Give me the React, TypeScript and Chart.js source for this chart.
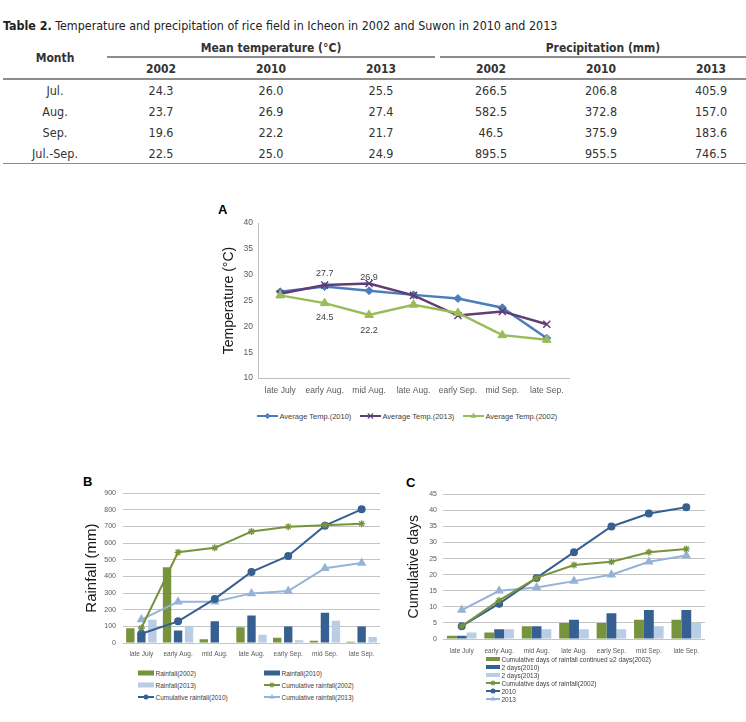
import React, { useEffect, useRef } from "react";
import { Chart, registerables } from "chart.js";

Chart.register(...registerables);

const FONT = "'Liberation Sans', Arial, sans-serif";
const TABLE_FONT = "'DejaVu Sans Condensed', 'DejaVu Sans', sans-serif";

// ---------- Table data ----------
const tableTitleBold = "Table 2.";
const tableTitle = " Temperature and precipitation of rice field in Icheon in 2002 and Suwon in 2010 and 2013";
const tableMonths = ["Jul.", "Aug.", "Sep.", "Jul.-Sep."];
const tableYears = ["2002", "2010", "2013"];
const meanTemp2002 = [24.3, 23.7, 19.6, 22.5];
const meanTemp2010 = [26.0, 26.9, 22.2, 25.0];
const meanTemp2013 = [25.5, 27.4, 21.7, 24.9];
const precip2002 = [266.5, 582.5, 46.5, 895.5];
const precip2010 = [206.8, 372.8, 375.9, 955.5];
const precip2013 = [405.9, 157.0, 183.6, 746.5];

// ---------- Chart data ----------
const periods = ["late July", "early Aug.", "mid Aug.", "late Aug.", "early Sep.", "mid Sep.", "late Sep."];

const avgTemp2010 = [26.7, 27.7, 26.9, 26.1, 25.4, 23.6, 17.7];
const avgTemp2013 = [26.3, 28.0, 28.3, 26.0, 22.1, 22.9, 20.4];
const avgTemp2002 = [26.0, 24.5, 22.2, 24.2, 22.6, 18.3, 17.4];

const rainfall2002 = [88, 455, 22, 95, 32, 14, 8];
const rainfall2010 = [58, 75, 131, 165, 99, 181, 99];
const rainfall2013 = [140, 103, 0, 50, 16, 133, 36];
const cumRain2002 = [90, 545, 572, 670, 699, 708, 717];
const cumRain2010 = [56, 130, 265, 427, 523, 705, 803];
const cumRain2013 = [141, 248, 248, 298, 312, 449, 481];

const days2002 = [1, 2, 4, 5, 5, 6, 6];
const days2010 = [1, 3, 4, 6, 8, 9, 9];
const days2013 = [2, 3, 3, 3, 3, 4, 5];
const cumDays2002 = [4, 12, 19, 23, 24, 27, 28];
const cumDays2010 = [4, 11, 19, 27, 35, 39, 41];
const cumDays2013 = [9, 15, 16, 18, 20, 24, 26];

// ---------- Labels ----------
const labelsA = ["Average Temp.(2010)", "Average Temp.(2013)", "Average Temp.(2002)"];
const labelsB = [
  "Rainfall(2002)",
  "Rainfall(2010)",
  "Rainfall(2013)",
  "Cumulative rainfall(2002)",
  "Cumulative rainfall(2010)",
  "Cumulative rainfall(2013)",
];
const labelsC = [
  "Cumulative days of rainfall continued \u22652 days(2002)",
  "2 days(2010)",
  "2 days(2013)",
  "Cumulative days of rainfall(2002)",
  "2010",
  "2013",
];

// ---------- Colours ----------
const BLUE_A = "#4A7EBB";
const PURPLE_A = "#5F3D75";
const GREEN_A = "#9BBB59";
const GREEN = "#77933C";
const DBLUE = "#376092";
const LBLUE_BAR = "#B9CDE5";
const LBLUE_LINE = "#95B3D7";
const TICK = "#595959";
const GRID = "#c4c4c4";

const valueLabelPlugin = {
  id: "valueLabels",
  afterDatasetsDraw(chart: any) {
    const ctx = chart.ctx;
    ctx.save();
    ctx.font = `9px ${FONT}`;
    ctx.fillStyle = "#404040";
    ctx.textAlign = "center";
    ctx.textBaseline = "middle";
    chart.data.datasets.forEach((ds: any, i: number) => {
      if (!ds.valueLabels) return;
      const meta = chart.getDatasetMeta(i);
      ds.valueLabels.forEach((v: any) => {
        const pt = meta.data[v.index];
        if (!pt) return;
        ctx.fillText(Number(ds.data[v.index]).toFixed(1), pt.x, pt.y + v.dy);
      });
    });
    ctx.restore();
  },
};

function configA(): any {
  return {
    type: "line",
    data: {
      labels: periods,
      datasets: [
        {
          label: labelsA[0], data: avgTemp2010, borderColor: BLUE_A, backgroundColor: BLUE_A,
          borderWidth: 2.5, pointStyle: "rectRot", pointRadius: 4, pointBorderWidth: 1, order: 2,
          valueLabels: [{ index: 1, dy: -13 }, { index: 2, dy: -13 }],
        },
        {
          label: labelsA[1], data: avgTemp2013, borderColor: PURPLE_A, backgroundColor: PURPLE_A,
          borderWidth: 2.5, pointStyle: "crossRot", pointRadius: 5, pointBorderWidth: 1.5, order: 1,
        },
        {
          label: labelsA[2], data: avgTemp2002, borderColor: GREEN_A, backgroundColor: GREEN_A,
          borderWidth: 2.5, pointStyle: "triangle", pointRadius: 5, pointBorderWidth: 1, order: 0,
          valueLabels: [{ index: 1, dy: 14 }, { index: 2, dy: 16 }],
        },
      ],
    },
    options: {
      responsive: false,
      animation: false,
      layout: { padding: { left: 0, top: 10, right: 21, bottom: 0 } },
      plugins: { legend: { display: false }, tooltip: { enabled: false } },
      scales: {
        x: {
          offset: true,
          grid: { display: false, drawTicks: false },
          border: { color: "#bfbfbf" },
          ticks: { font: { size: 8.5, family: FONT }, color: TICK, padding: 8, maxRotation: 0, autoSkip: false },
          afterFit: (s: any) => { s.height = 25; },
        },
        y: {
          min: 10, max: 40,
          ticks: { stepSize: 5, font: { size: 8.5, family: FONT }, color: TICK, padding: 5 },
          grid: { display: false, drawTicks: false },
          border: { color: "#bfbfbf" },
          title: { display: true, text: "Temperature (\u00B0C)", font: { size: 14, family: FONT }, color: "#1a1a1a", padding: { top: 20.6, bottom: 0 } },
          afterFit: (s: any) => { s.width = 58; },
        },
      },
    },
    plugins: [valueLabelPlugin],
  };
}

function configB(): any {
  const bar = { barPercentage: 0.76, categoryPercentage: 0.9, order: 2 };
  return {
    type: "bar",
    data: {
      labels: periods,
      datasets: [
        { type: "bar", label: labelsB[0], data: rainfall2002, backgroundColor: GREEN, ...bar },
        { type: "bar", label: labelsB[1], data: rainfall2010, backgroundColor: DBLUE, ...bar },
        { type: "bar", label: labelsB[2], data: rainfall2013, backgroundColor: LBLUE_BAR, ...bar },
        { type: "line", label: labelsB[3], data: cumRain2002, borderColor: GREEN, backgroundColor: GREEN, borderWidth: 2, pointStyle: "star", pointRadius: 3.5, pointBorderWidth: 1.3, order: 0 },
        { type: "line", label: labelsB[4], data: cumRain2010, borderColor: DBLUE, backgroundColor: DBLUE, borderWidth: 2, pointStyle: "circle", pointRadius: 3, order: 0 },
        { type: "line", label: labelsB[5], data: cumRain2013, borderColor: LBLUE_LINE, backgroundColor: LBLUE_LINE, borderWidth: 2, pointStyle: "triangle", pointRadius: 3.5, order: 0 },
      ],
    },
    options: {
      responsive: false,
      animation: false,
      layout: { padding: { left: 0, top: 9.7, right: 10, bottom: 0 } },
      plugins: { legend: { display: false }, tooltip: { enabled: false } },
      scales: {
        x: {
          grid: { display: false, drawTicks: false },
          border: { display: false },
          ticks: { font: { size: 6.5, family: FONT }, color: TICK, padding: 7, maxRotation: 0, autoSkip: false },
          afterFit: (s: any) => { s.height = 20; },
        },
        y: {
          min: 0, max: 900,
          ticks: { stepSize: 100, font: { size: 7, family: FONT }, color: TICK, padding: 7 },
          grid: { color: GRID, drawTicks: false },
          border: { display: false },
          title: { display: true, text: "Rainfall (mm)", font: { size: 15, family: FONT }, color: "#1a1a1a", padding: { top: 3, bottom: 0 } },
          afterFit: (s: any) => { s.width = 43; },
        },
      },
    },
  };
}

function configC(): any {
  const bar = { barPercentage: 1.0, categoryPercentage: 0.79, order: 2 };
  return {
    type: "bar",
    data: {
      labels: periods,
      datasets: [
        { type: "bar", label: labelsC[0], data: days2002, backgroundColor: GREEN, ...bar },
        { type: "bar", label: labelsC[1], data: days2010, backgroundColor: DBLUE, ...bar },
        { type: "bar", label: labelsC[2], data: days2013, backgroundColor: LBLUE_BAR, ...bar },
        { type: "line", label: labelsC[3], data: cumDays2002, borderColor: GREEN, backgroundColor: GREEN, borderWidth: 2, pointStyle: "star", pointRadius: 3.5, pointBorderWidth: 1.3, order: 0 },
        { type: "line", label: labelsC[4], data: cumDays2010, borderColor: DBLUE, backgroundColor: DBLUE, borderWidth: 2, pointStyle: "circle", pointRadius: 3, order: 0 },
        { type: "line", label: labelsC[5], data: cumDays2013, borderColor: LBLUE_LINE, backgroundColor: LBLUE_LINE, borderWidth: 2, pointStyle: "triangle", pointRadius: 3.5, order: 0 },
      ],
    },
    options: {
      responsive: false,
      animation: false,
      layout: { padding: { left: 0, top: 10.3, right: 10, bottom: 0 } },
      plugins: { legend: { display: false }, tooltip: { enabled: false } },
      scales: {
        x: {
          grid: { display: false, drawTicks: false },
          border: { display: false },
          ticks: { font: { size: 6.5, family: FONT }, color: TICK, padding: 8, maxRotation: 0, autoSkip: false },
          afterFit: (s: any) => { s.height = 20; },
        },
        y: {
          min: 0, max: 45,
          ticks: { stepSize: 5, font: { size: 7, family: FONT }, color: TICK, padding: 6 },
          grid: { color: GRID, drawTicks: false },
          border: { display: false },
          title: { display: true, text: "Cumulative days", font: { size: 14, family: FONT }, color: "#1a1a1a", padding: { top: 5.6, bottom: 0 } },
          afterFit: (s: any) => { s.width = 43; },
        },
      },
    },
  };
}

function ChartBox({ left, top, width, height, make }: any) {
  const ref = useRef<HTMLCanvasElement>(null);
  useEffect(() => {
    const c = new Chart(ref.current as HTMLCanvasElement, make());
    return () => c.destroy();
  }, []);
  return (
    <canvas
      ref={ref}
      width={width}
      height={height}
      style={{ position: "absolute", left, top, width, height }}
    />
  );
}

function MarkerSvg({ shape, color, cx, cy, r }: any) {
  if (shape === "diamond")
    return <polygon points={`${cx},${cy - r} ${cx + r},${cy} ${cx},${cy + r} ${cx - r},${cy}`} fill={color} />;
  if (shape === "x") {
    const d = r * 0.75;
    return (
      <g stroke={color} strokeWidth={1.3}>
        <line x1={cx - d} y1={cy - d} x2={cx + d} y2={cy + d} />
        <line x1={cx - d} y1={cy + d} x2={cx + d} y2={cy - d} />
      </g>
    );
  }
  if (shape === "triangle")
    return <polygon points={`${cx},${cy - r} ${cx + 0.87 * r},${cy + 0.5 * r} ${cx - 0.87 * r},${cy + 0.5 * r}`} fill={color} />;
  if (shape === "circle") return <circle cx={cx} cy={cy} r={r} fill={color} />;
  if (shape === "star") {
    const d = r * 0.7;
    return (
      <g stroke={color} strokeWidth={1.2}>
        <line x1={cx - r} y1={cy} x2={cx + r} y2={cy} />
        <line x1={cx} y1={cy - r} x2={cx} y2={cy + r} />
        <line x1={cx - d} y1={cy - d} x2={cx + d} y2={cy + d} />
        <line x1={cx - d} y1={cy + d} x2={cx + d} y2={cy - d} />
      </g>
    );
  }
  return null;
}

function LegendItem({ x, y, label, kind, color, marker, sw, barH, fontSize, r }: any) {
  const h = 12;
  return (
    <div
      style={{
        position: "absolute", left: x, top: y - h / 2, height: h, display: "flex",
        alignItems: "center", whiteSpace: "nowrap", fontFamily: FONT, fontSize, color: "#404040",
      }}
    >
      <svg width={sw} height={h} style={{ display: "block", marginRight: 1.5 }}>
        {kind === "bar" ? (
          <rect x={0} y={h / 2 - barH / 2} width={sw} height={barH} fill={color} />
        ) : (
          <g>
            <line x1={0} y1={h / 2} x2={sw} y2={h / 2} stroke={color} strokeWidth={2} />
            <MarkerSvg shape={marker} color={color} cx={sw / 2} cy={h / 2} r={r} />
          </g>
        )}
      </svg>
      <span>{label}</span>
    </div>
  );
}

function Cell({ cx, cy, w, text, bold, size }: any) {
  return (
    <div
      style={{
        position: "absolute", left: cx - w / 2, top: cy - 10, width: w, height: 20, lineHeight: "20px",
        textAlign: "center", fontWeight: bold ? 700 : 400, fontSize: size, whiteSpace: "nowrap",
      }}
    >
      {text}
    </div>
  );
}

function HLine({ x1, x2, y }: any) {
  return <div style={{ position: "absolute", left: x1, top: y - 1, width: x2 - x1, height: 1.6, background: "#8c8c8c" }} />;
}

function Table() {
  const colCenters = [55, 161, 271, 381, 491, 601, 711];
  const rowCenters = [90.5, 112, 133.3, 154.3];
  const cols = [meanTemp2002, meanTemp2010, meanTemp2013, precip2002, precip2010, precip2013];
  const DS = 12.5;
  const HS = 12;
  return (
    <div style={{ position: "absolute", left: 0, top: 0, width: 746, height: 170, fontFamily: TABLE_FONT, color: "#333" }}>
      <div style={{ position: "absolute", left: 3, top: 16, height: 20, lineHeight: "20px", fontSize: 12.4, whiteSpace: "nowrap", color: "#222" }}>
        <b>{tableTitleBold}</b>
        {tableTitle}
      </div>
      <Cell cx={colCenters[0]} cy={58.3} w={100} text="Month" bold size={HS} />
      <Cell cx={(107 + 435) / 2} cy={47.5} w={300} text={"Mean temperature (\u00B0C)"} bold size={HS} />
      <Cell cx={(440 + 766) / 2} cy={47.5} w={300} text="Precipitation (mm)" bold size={HS} />
      <HLine x1={107} x2={435} y={57} />
      <HLine x1={440} x2={746} y={57} />
      {[0, 1, 2, 3, 4, 5].map((i) => (
        <Cell key={"y" + i} cx={colCenters[i + 1]} cy={69.3} w={100} text={tableYears[i % 3]} bold size={HS} />
      ))}
      <HLine x1={3} x2={746} y={79} />
      {tableMonths.map((m, r) => (
        <React.Fragment key={m}>
          <Cell cx={colCenters[0]} cy={rowCenters[r]} w={100} text={m} size={DS} />
          {cols.map((c, i) => (
            <Cell key={i} cx={colCenters[i + 1]} cy={rowCenters[r]} w={100} text={c[r].toFixed(1)} size={DS} />
          ))}
        </React.Fragment>
      ))}
      <HLine x1={3} x2={746} y={163.5} />
    </div>
  );
}

function PanelLetter({ x, y, t }: any) {
  return (
    <div style={{ position: "absolute", left: x, top: y, fontFamily: FONT, fontWeight: 700, fontSize: 13, lineHeight: "13px", color: "#000" }}>
      {t}
    </div>
  );
}

export default function App() {
  return (
    <div style={{ position: "absolute", left: 0, top: 0, width: 746, height: 722, overflow: "hidden", background: "#fff" }}>
      <Table />

      <PanelLetter x={218} y={203.3} t="A" />
      <ChartBox left={200} top={213} width={390} height={190} make={configA} />
      <LegendItem x={257} y={416} label={labelsA[0]} kind="line" color={BLUE_A} marker="diamond" sw={21} r={3} fontSize={7.5} />
      <LegendItem x={360} y={416} label={labelsA[1]} kind="line" color={PURPLE_A} marker="x" sw={21} r={3.5} fontSize={7.5} />
      <LegendItem x={463} y={416} label={labelsA[2]} kind="line" color={GREEN_A} marker="triangle" sw={21} r={3.5} fontSize={7.5} />

      <PanelLetter x={83} y={475} t="B" />
      <ChartBox left={80} top={482} width={310} height={181} make={configB} />
      <LegendItem x={138} y={673} label={labelsB[0]} kind="bar" color={GREEN} sw={16} barH={5} fontSize={6.5} />
      <LegendItem x={264} y={673} label={labelsB[1]} kind="bar" color={DBLUE} sw={16} barH={5} fontSize={6.5} />
      <LegendItem x={138} y={685} label={labelsB[2]} kind="bar" color={LBLUE_BAR} sw={16} barH={5} fontSize={6.5} />
      <LegendItem x={264} y={685} label={labelsB[3]} kind="line" color={GREEN} marker="star" sw={16} r={2.5} fontSize={6.5} />
      <LegendItem x={138} y={697} label={labelsB[4]} kind="line" color={DBLUE} marker="circle" sw={16} r={2.5} fontSize={6.5} />
      <LegendItem x={264} y={697} label={labelsB[5]} kind="line" color={LBLUE_LINE} marker="triangle" sw={16} r={3} fontSize={6.5} />

      <PanelLetter x={406} y={475.5} t="C" />
      <ChartBox left={400} top={484} width={315} height={175} make={configC} />
      <LegendItem x={486} y={659} label={labelsC[0]} kind="bar" color={GREEN} sw={14} barH={4} fontSize={6.5} />
      <LegendItem x={486} y={667} label={labelsC[1]} kind="bar" color={DBLUE} sw={14} barH={4} fontSize={6.5} />
      <LegendItem x={486} y={675} label={labelsC[2]} kind="bar" color={LBLUE_BAR} sw={14} barH={4} fontSize={6.5} />
      <LegendItem x={486} y={683} label={labelsC[3]} kind="line" color={GREEN} marker="star" sw={14} r={2.5} fontSize={6.5} />
      <LegendItem x={486} y={691} label={labelsC[4]} kind="line" color={DBLUE} marker="circle" sw={14} r={2.5} fontSize={6.5} />
      <LegendItem x={486} y={699} label={labelsC[5]} kind="line" color={LBLUE_LINE} marker="triangle" sw={14} r={3} fontSize={6.5} />
    </div>
  );
}
